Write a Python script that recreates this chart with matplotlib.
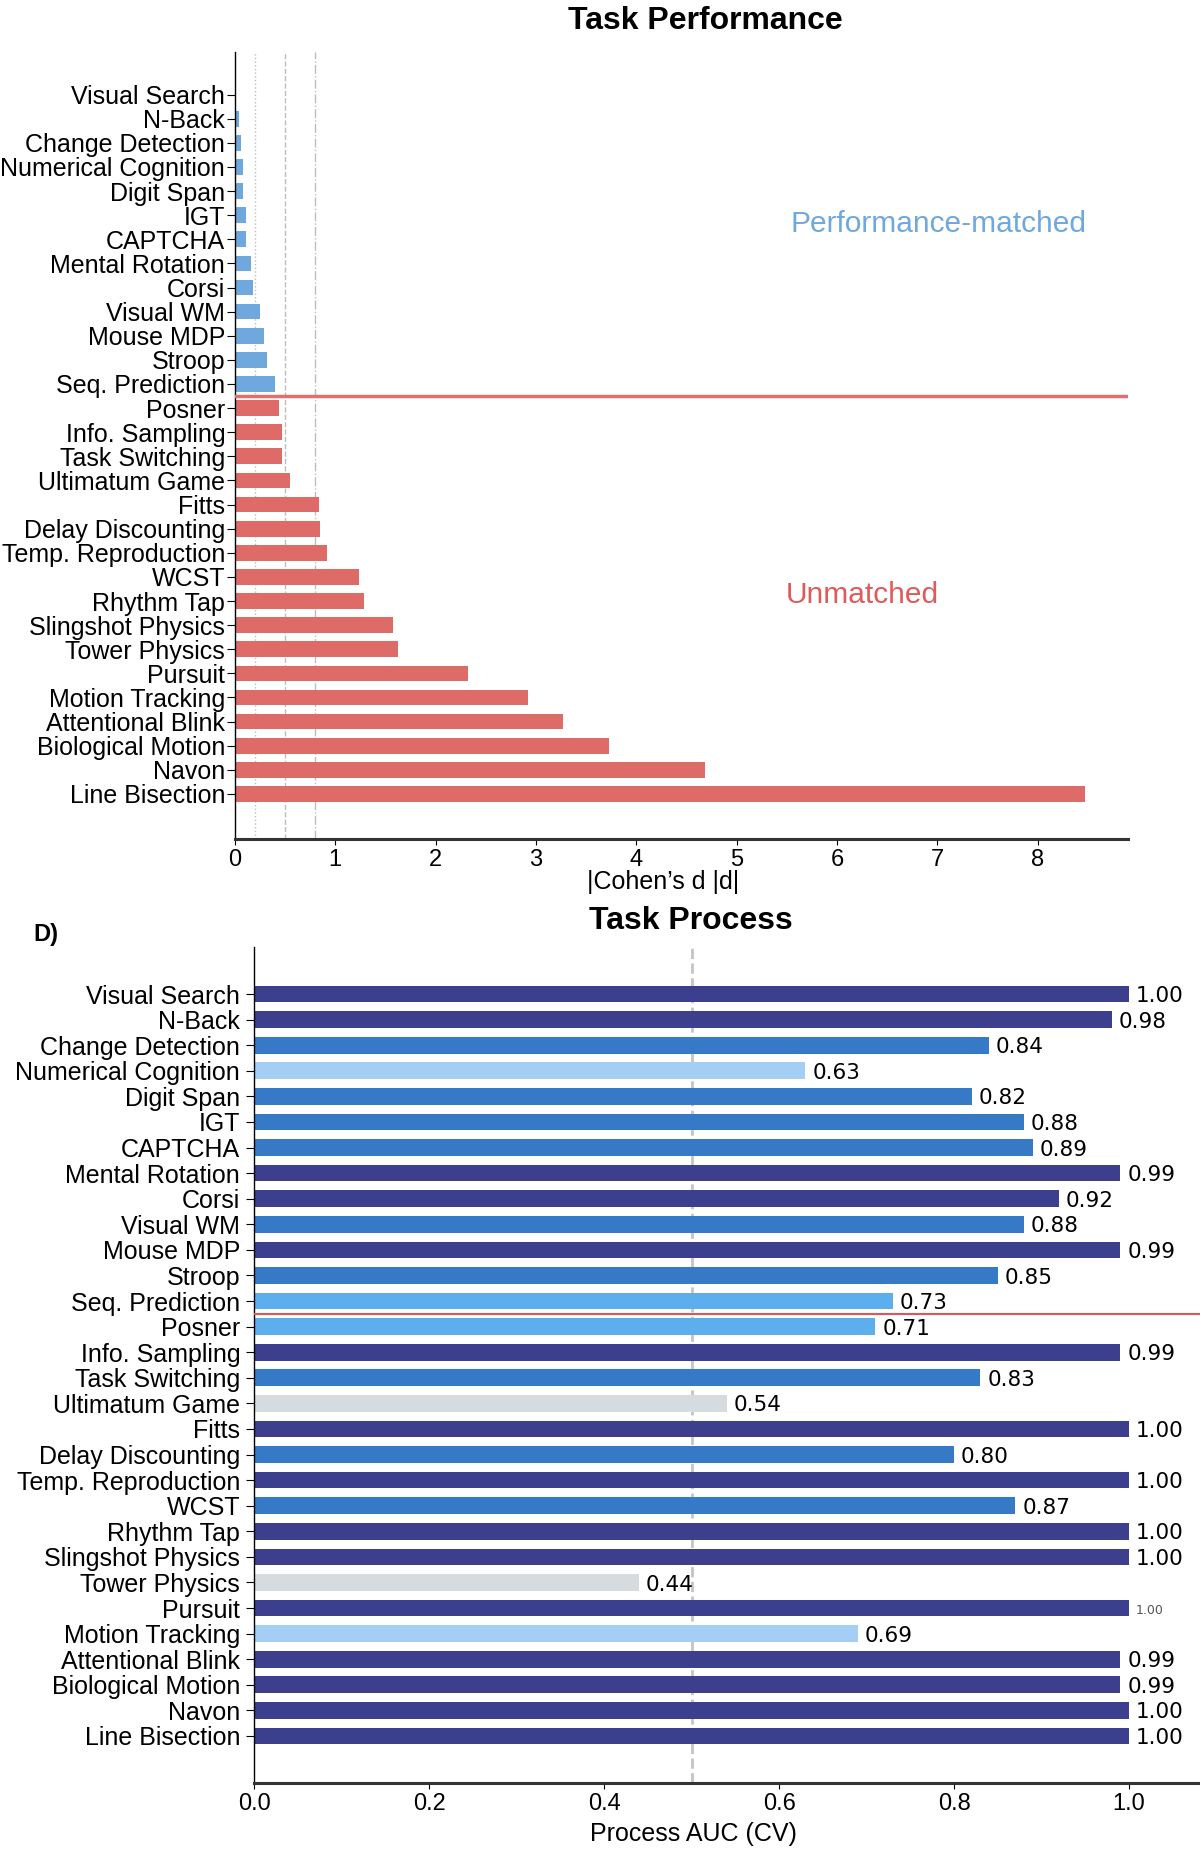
import matplotlib
matplotlib.use("Agg")
import matplotlib.pyplot as plt
import numpy as np

tasks = ["Visual Search", "N-Back", "Change Detection", "Numerical Cognition", "Digit Span",
         "IGT", "CAPTCHA", "Mental Rotation", "Corsi", "Visual WM", "Mouse MDP", "Stroop",
         "Seq. Prediction", "Posner", "Info. Sampling", "Task Switching", "Ultimatum Game",
         "Fitts", "Delay Discounting", "Temp. Reproduction", "WCST", "Rhythm Tap",
         "Slingshot Physics", "Tower Physics", "Pursuit", "Motion Tracking",
         "Attentional Blink", "Biological Motion", "Navon", "Line Bisection"]
cohens_d = [0.01, 0.045, 0.06, 0.08, 0.08, 0.11, 0.11, 0.16, 0.175, 0.25, 0.29, 0.32,
            0.40, 0.44, 0.47, 0.47, 0.55, 0.84, 0.85, 0.92, 1.24, 1.29, 1.58, 1.62,
            2.32, 2.92, 3.27, 3.73, 4.68, 8.47]
process_auc = [1.00, 0.98, 0.84, 0.63, 0.82, 0.88, 0.89, 0.99, 0.92, 0.88, 0.99, 0.85,
               0.73, 0.71, 0.99, 0.83, 0.54, 1.00, 0.80, 1.00, 0.87, 1.00, 1.00, 0.44,
               1.00, 0.69, 0.99, 0.99, 1.00, 1.00]
n_matched = 13  # first 13 tasks are performance-matched
effect_refs = [0.2, 0.5, 0.8]

plt.rcParams["font.family"] = ["Liberation Sans", "DejaVu Sans"]

BLUE = "#6fa8dc"
RED = "#df6b69"


def auc_color(v):
    if v >= 0.9:
        return "#3c3f8e"
    elif v >= 0.8:
        return "#367ac7"
    elif v >= 0.7:
        return "#5caeec"
    elif v >= 0.6:
        return "#a4cef4"
    return "#d6dbdf"


fig = plt.figure(figsize=(12, 18.55), dpi=100)
ax1 = fig.add_axes([0.1958, 0.5477, 0.7442, 0.4243])
ax2 = fig.add_axes([0.2117, 0.0388, 0.7883, 0.4507])

y = np.arange(len(tasks))

# --- top: task performance ---
top_colors = [BLUE if i < n_matched else RED for i in y]
ax1.barh(y, cohens_d, height=0.65, color=top_colors, zorder=2)
for v, ls in zip(effect_refs, [":", "--", "-."]):
    ax1.axvline(v, color="#bdbdbd", lw=1, ls=ls, zorder=1)
ax1.axhline(n_matched - 0.5, color="#e07070", lw=2.5, zorder=3)
ax1.set_xlim(0, 8.9)
ax1.set_ylim(len(tasks) - 1 + 1.87, -1.77)
ax1.set_yticks(y)
ax1.set_yticklabels(tasks, fontsize=18)
ax1.set_xticks(range(0, 9))
ax1.tick_params(axis="x", labelsize=17, length=4)
ax1.tick_params(axis="y", length=6, pad=1)
for s in ["top", "right"]:
    ax1.spines[s].set_visible(False)
ax1.spines["bottom"].set_color("#333333")
ax1.spines["bottom"].set_linewidth(2.2)
ax1.spines["left"].set_linewidth(1)

fig.text(0.588, 0.9885, "Task Performance", fontsize=23, fontweight="bold", ha="center", va="center")
fig.text(0.7817, 0.8795, "Performance-matched", fontsize=21.5, color=BLUE, ha="center", va="center")
fig.text(0.719, 0.6795, "Unmatched", fontsize=21.5, color="#e05a5a", ha="center", va="center")
fig.text(0.5525, 0.5245, "|Cohen’s d |d|", fontsize=18, ha="center", va="center")

# --- bottom: task process ---
ax2.barh(y, process_auc, height=0.65, color=[auc_color(v) for v in process_auc], zorder=2)
ax2.axvline(0.5, color="#c4c4c4", lw=2, ls="--", zorder=1)
ax2.axhline(n_matched - 0.5, color="#e05555", lw=1.5, zorder=3)
for i, v in enumerate(process_auc):
    small = tasks[i] == "Pursuit"
    ax2.annotate(f"{v:.2f}", (v, i), xytext=(5, -1.5), textcoords="offset points",
                 va="center", ha="left", family="DejaVu Sans",
                 fontsize=9 if small else 15.5, color="#555555" if small else "black")
ax2.set_xlim(0, 1.081)
ax2.set_ylim(len(tasks) - 1 + 1.84, -1.84)
ax2.set_yticks(y)
ax2.set_yticklabels(tasks, fontsize=18)
ax2.set_xticks([0.0, 0.2, 0.4, 0.6, 0.8, 1.0])
ax2.set_xticklabels(["0.0", "0.2", "0.4", "0.6", "0.8", "1.0"])
ax2.tick_params(axis="x", labelsize=17, length=4)
ax2.tick_params(axis="y", length=6, pad=4)
for s in ["top", "right"]:
    ax2.spines[s].set_visible(False)
ax2.spines["bottom"].set_color("#333333")
ax2.spines["bottom"].set_linewidth(2.2)
ax2.spines["left"].set_linewidth(1)

fig.text(0.576, 0.5035, "Task Process", fontsize=23, fontweight="bold", ha="center", va="center")
fig.text(0.0275, 0.496, "D)", fontsize=17, fontweight="bold", ha="left", va="center")
fig.text(0.578, 0.0113, "Process AUC (CV)", fontsize=18, ha="center", va="center")

fig.savefig("out.png", dpi=100)
